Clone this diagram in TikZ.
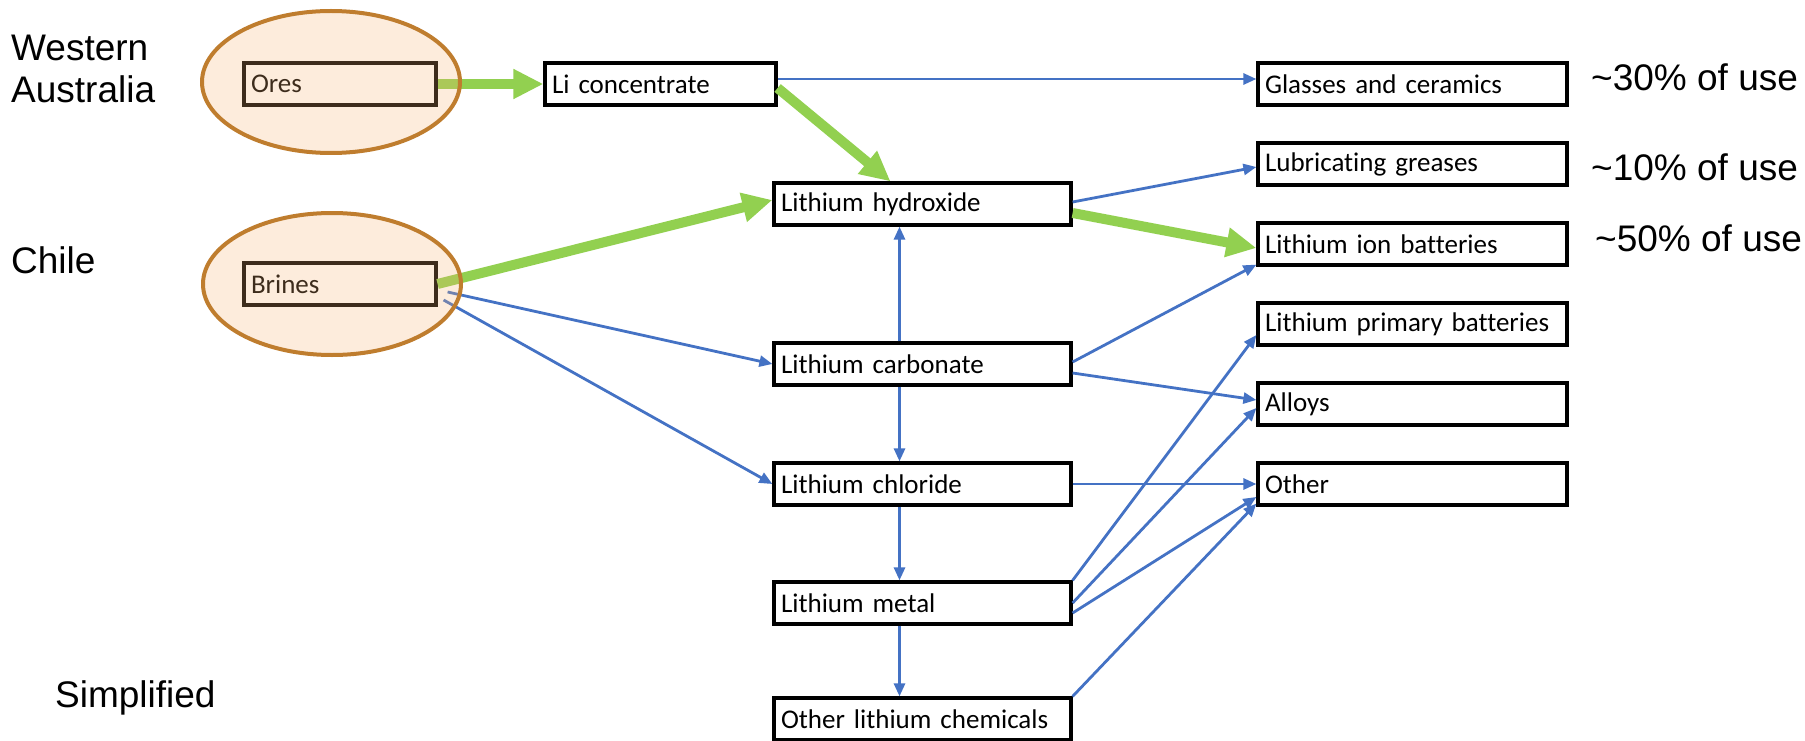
\documentclass[tikz,border=0pt]{standalone}
\usepackage{fontspec}
\setmainfont{Liberation Sans}
\newfontfamily\boxfont{Carlito}[Ligatures=NoCommon]
\usetikzlibrary{arrows.meta,shapes.geometric}
\definecolor{FlowClr}{RGB}{68,114,196}
\definecolor{MainClr}{RGB}{146,208,80}
\definecolor{SiteClr}{RGB}{191,125,46}
\definecolor{SiteFill}{RGB}{247,179,115}

\tikzset{
  box/.style={draw,line width=3.2pt,minimum height=42pt,inner xsep=7pt,inner ysep=0pt,
    align=left,text width=#1,font=\boxfont\fontsize{27}{30}\selectfont},
  site/.style={ellipse,draw=SiteClr,line width=4pt,fill=SiteFill,fill opacity=0.25,
    draw opacity=1,minimum width=258pt,minimum height=142pt},
  flow/.style={FlowClr,line width=2.8pt,-{Triangle[length=13pt,width=11pt]}},
  mainflow/.style={MainClr,line width=10pt,-{Triangle[length=30pt,width=28pt]}},
  sidetext/.style={anchor=west,inner sep=0pt,align=left,font=\fontsize{37}{42}\selectfont}
}

\begin{document}
\begin{tikzpicture}[x=1pt,y=-1pt]
\useasboundingbox (0,0) rectangle (1805,741);

\node[box=178pt] (ores) at (340,84) {Ores};
\node[box=178pt] (brines) at (340,284) {Brines};
\node[box=217pt] (licon) at (660.5,84) {Li concentrate};

\node[box=283pt] (hydrox) at (922.5,204) {Lithium hydroxide};
\node[box=283pt] (carbon) at (922.5,364) {Lithium carbonate};
\node[box=283pt] (chlor) at (922.5,484) {Lithium chloride};
\node[box=283pt] (metal) at (922.5,603) {Lithium metal};
\node[box=283pt] (otherchem) at (922.5,719) {Other lithium chemicals};

\node[box=295pt] (glass) at (1412.5,84) {Glasses and ceramics};
\node[box=295pt] (grease) at (1412.5,164) {Lubricating greases};
\node[box=295pt] (ionbat) at (1412.5,244) {Lithium ion batteries};
\node[box=295pt] (primbat) at (1412.5,324) {Lithium primary batteries};
\node[box=295pt] (alloys) at (1412.5,404) {Alloys};
\node[box=295pt] (other) at (1412.5,484) {Other};

\draw[mainflow] (ores.east) -- (licon.west);
\draw[flow] ([yshift=5pt]licon.east) -- ([yshift=5pt]glass.west);
\draw[mainflow] ([yshift=-4pt]licon.east) -- ([xshift=-32pt]hydrox.north);
\draw[mainflow] (brines.east) -- ([yshift=4pt]hydrox.west);
\draw[flow] ([xshift=10pt,yshift=-8pt]brines.east) -- (carbon.west);
\draw[flow] ([xshift=6pt,yshift=-16pt]brines.east) -- (chlor.west);
\draw[flow] ([yshift=2pt]hydrox.east) -- ([yshift=-3pt]grease.west);
\draw[mainflow] ([yshift=-9pt]hydrox.east) -- ([yshift=-4pt]ionbat.west);
\draw[flow] ([xshift=-23pt]carbon.north) -- ([xshift=-23pt]hydrox.south);
\draw[flow] ([xshift=-23pt]carbon.south) -- ([xshift=-23pt]chlor.north);
\draw[flow] ([xshift=-23pt]chlor.south) -- ([xshift=-23pt]metal.north);
\draw[flow] ([xshift=-23pt]metal.south) -- ([xshift=-23pt]otherchem.north);
\draw[flow] ([yshift=2pt]carbon.east) -- ([yshift=2pt]ionbat.south west);
\draw[flow] ([yshift=-9pt]carbon.east) -- ([yshift=4pt]alloys.west);
\draw[flow] (chlor.east) -- (other.west);
\draw[flow] (metal.north east) -- ([yshift=-11pt]primbat.west);
\draw[flow] (metal.east) -- ([yshift=-4pt]alloys.west);
\draw[flow] ([yshift=-10pt]metal.east) -- ([yshift=-13pt]other.west);
\draw[flow] (otherchem.north east) -- ([yshift=3pt]other.south west);

\node[site] (oresite) at (331,82) {};
\node[site] (brinesite) at (332,284) {};

\node[sidetext] (wa) at (11,69) {Western\\Australia};
\node[sidetext] (chile) at (11,260) {Chile};
\node[sidetext] (simple) at (55,698) {Simplified};
\node[sidetext] (glassuse) at (1591,77) {\textasciitilde30\% of use};
\node[sidetext] (greaseuse) at (1591,167) {\textasciitilde10\% of use};
\node[sidetext] (ionuse) at (1595,238) {\textasciitilde50\% of use};
\end{tikzpicture}
\end{document}
